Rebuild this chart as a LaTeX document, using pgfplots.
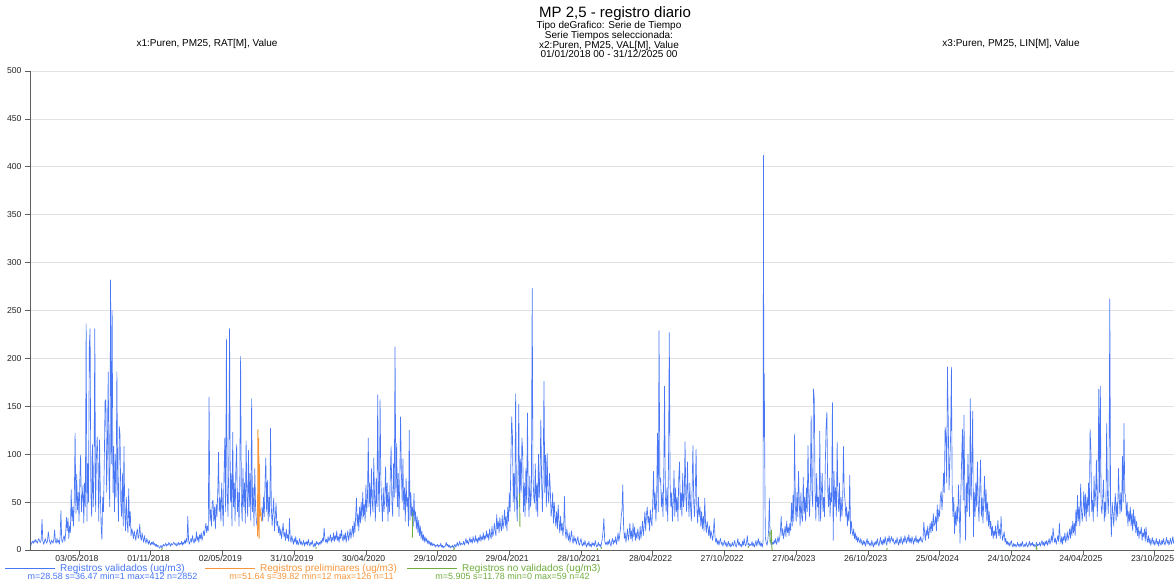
\documentclass[border=0pt]{standalone}
\usepackage{fontspec}
\setmainfont{Liberation Sans}
\usepackage{pgfplots}
\usepackage{pgfplotstable}
\pgfplotsset{compat=1.18}
\definecolor{cblue}{RGB}{72,118,245}
\definecolor{corange}{RGB}{245,150,60}
\definecolor{cgreen}{RGB}{112,172,62}
\definecolor{gridc}{RGB}{226,226,226}
\definecolor{axc}{RGB}{95,95,95}

\pgfplotstableread[row sep=\\]{
d v\\
0 5\\ 2 8\\ 4 9\\ 6 7\\ 8 10\\ 10 8\\ 12 11\\ 14 9\\ 16 7\\ 18 10\\
20 12\\ 22 9\\ 24 8\\ 26 11\\ 28 32\\ 30 10\\ 32 6\\ 34 8\\ 36 12\\ 38 9\\
40 7\\ 42 10\\ 44 19\\ 46 12\\ 48 8\\ 50 6\\ 52 10\\ 54 9\\ 56 7\\ 58 11\\
60 21\\ 62 9\\ 64 7\\ 66 12\\ 68 8\\ 70 10\\ 72 6\\ 74 14\\ 76 41\\ 78 10\\
80 8\\ 82 12\\ 84 15\\ 86 9\\ 88 18\\ 90 34\\ 92 20\\ 94 33\\ 96 12\\ 98 25\\
100 18\\ 102 63\\ 104 30\\ 106 45\\ 108 25\\ 110 55\\ 112 122\\ 114 38\\ 116 79\\ 118 42\\
120 60\\ 122 30\\ 124 75\\ 126 99\\ 128 40\\ 130 55\\ 132 68\\ 134 28\\ 136 70\\ 138 45\\
140 236\\ 142 30\\ 144 90\\ 146 50\\ 148 212\\ 150 231\\ 152 60\\ 154 35\\ 156 110\\ 158 45\\
160 80\\ 162 231\\ 164 40\\ 166 95\\ 168 118\\ 170 89\\ 172 30\\ 174 115\\ 176 60\\ 178 25\\
180 11\\ 182 55\\ 184 40\\ 186 90\\ 188 155\\ 190 157\\ 192 60\\ 194 110\\ 196 186\\ 198 75\\
200 45\\ 202 282\\ 204 90\\ 206 250\\ 208 60\\ 210 108\\ 212 40\\ 214 100\\ 216 55\\ 218 186\\
220 70\\ 222 30\\ 224 129\\ 226 120\\ 228 50\\ 230 35\\ 232 80\\ 234 25\\ 236 108\\ 238 40\\
240 20\\ 242 55\\ 244 30\\ 246 18\\ 248 64\\ 250 25\\ 252 40\\ 254 15\\ 256 22\\ 258 18\\
260 12\\ 262 20\\ 264 15\\ 266 10\\ 268 18\\ 270 22\\ 272 12\\ 274 15\\ 276 27\\ 278 14\\
280 10\\ 282 18\\ 284 12\\ 286 8\\ 288 15\\ 290 10\\ 292 7\\ 294 12\\ 296 9\\ 298 6\\
300 10\\ 302 7\\ 304 5\\ 306 8\\ 308 6\\ 310 9\\ 312 5\\ 314 7\\ 316 4\\ 318 6\\
320 3\\ 322 5\\ 324 4\\ 326 2\\ 328 3\\ 330 5\\ 332 2\\ 334 4\\ 336 6\\ 338 4\\
340 5\\ 342 7\\ 344 4\\ 346 6\\ 348 5\\ 350 8\\ 352 6\\ 354 4\\ 356 7\\ 358 5\\
360 6\\ 362 8\\ 364 7\\
366 5\\ 368 7\\ 370 4\\ 372 6\\ 374 8\\ 376 5\\ 378 7\\ 380 6\\ 382 9\\ 384 5\\
386 8\\ 388 6\\ 390 10\\ 392 7\\ 394 12\\ 396 8\\ 398 35\\ 400 10\\ 402 6\\ 404 9\\
406 12\\ 408 8\\ 410 15\\ 412 10\\ 414 7\\ 416 12\\ 418 9\\ 420 19\\ 422 10\\ 424 14\\
426 8\\ 428 16\\ 430 12\\ 432 18\\ 434 10\\ 436 14\\ 438 20\\ 440 15\\ 442 22\\ 444 28\\
446 18\\ 448 25\\ 450 20\\ 452 160\\ 454 30\\ 456 42\\ 458 25\\ 460 50\\ 462 52\\ 464 30\\
466 45\\ 468 22\\ 470 48\\ 472 35\\ 474 60\\ 476 102\\ 478 40\\ 480 55\\ 482 30\\ 484 70\\
486 45\\ 488 25\\ 490 80\\ 492 117\\ 494 40\\ 496 220\\ 498 60\\ 500 35\\ 502 90\\ 504 231\\
506 50\\ 508 80\\ 510 25\\ 512 123\\ 514 45\\ 516 70\\ 518 30\\ 520 85\\ 522 110\\ 524 40\\
526 60\\ 528 25\\ 530 75\\ 532 202\\ 534 50\\ 536 30\\ 538 85\\ 540 45\\ 542 70\\ 544 28\\
546 114\\ 548 55\\ 550 35\\ 552 104\\ 554 45\\ 556 80\\ 558 30\\ 560 158\\ 562 40\\ 564 65\\
566 25\\ 568 85\\ 570 45\\ 572 30\\ 574 25\\ 576 nan\\
586 45\\ 588 30\\ 590 55\\ 592 35\\ 594 70\\ 596 96\\ 598 40\\ 600 73\\ 602 30\\ 604 55\\
606 35\\ 608 127\\ 610 45\\ 612 25\\ 614 40\\ 616 54\\ 618 20\\ 620 35\\ 622 49\\ 624 25\\
626 30\\ 628 18\\ 630 25\\ 632 15\\ 634 22\\ 636 12\\ 638 20\\ 640 28\\ 642 14\\ 644 18\\
646 10\\ 648 22\\ 650 12\\ 652 16\\ 654 9\\ 656 33\\ 658 12\\ 660 8\\ 662 15\\ 664 10\\
666 6\\ 668 12\\ 670 8\\ 672 14\\ 674 6\\ 676 10\\ 678 5\\ 680 8\\ 682 12\\ 684 6\\
686 9\\ 688 5\\ 690 7\\ 692 10\\ 694 4\\ 696 8\\ 698 6\\ 700 9\\ 702 5\\ 704 11\\
706 7\\ 708 4\\ 710 8\\ 712 6\\ 714 10\\ 716 5\\ 718 3\\ 720 7\\ 722 4\\ 724 9\\
726 6\\ 728 8\\
730 5\\ 732 8\\ 734 6\\ 736 10\\ 738 7\\ 740 12\\ 742 9\\ 744 23\\ 746 12\\ 748 8\\
750 11\\ 752 7\\ 754 14\\ 756 9\\ 758 12\\ 760 16\\ 762 8\\ 764 13\\ 766 10\\ 768 18\\
770 9\\ 772 15\\ 774 11\\ 776 20\\ 778 10\\ 780 14\\ 782 8\\ 784 17\\ 786 12\\ 788 21\\
790 13\\ 792 9\\ 794 16\\ 796 11\\ 798 18\\ 800 8\\ 802 14\\ 804 20\\ 806 10\\ 808 15\\
810 22\\ 812 12\\ 814 18\\ 816 25\\ 818 14\\ 820 30\\ 822 18\\ 824 35\\ 826 54\\ 828 25\\
830 38\\ 832 20\\ 834 45\\ 836 28\\ 838 50\\ 840 32\\ 842 60\\ 844 35\\ 846 48\\ 848 30\\
850 68\\ 852 40\\ 854 55\\ 856 117\\ 858 45\\ 860 70\\ 862 35\\ 864 85\\ 866 50\\ 868 40\\
870 96\\ 872 55\\ 874 30\\ 876 75\\ 878 45\\ 880 162\\ 882 60\\ 884 40\\ 886 157\\ 888 73\\
890 50\\ 892 30\\ 894 65\\ 896 40\\ 898 55\\ 900 87\\ 902 45\\ 904 70\\ 906 30\\ 908 60\\
910 40\\ 912 80\\ 914 108\\ 916 50\\ 918 35\\ 920 90\\ 922 55\\ 924 212\\ 926 60\\ 928 111\\
930 45\\ 932 80\\ 934 35\\ 936 70\\ 938 139\\ 940 82\\ 942 50\\ 944 95\\ 946 42\\ 948 65\\
950 30\\ 952 75\\ 954 45\\ 956 55\\ 958 25\\ 960 125\\ 962 31\\ 964 60\\ 966 35\\ 968 45\\
970 25\\ 972 59\\ 974 30\\ 976 40\\ 978 22\\ 980 35\\ 982 18\\ 984 31\\ 986 15\\ 988 25\\
990 12\\ 992 20\\ 994 10\\ 996 16\\ 998 8\\ 1000 14\\ 1002 9\\ 1004 12\\ 1006 7\\ 1008 10\\
1010 6\\ 1012 9\\ 1014 5\\ 1016 8\\ 1018 4\\ 1020 7\\ 1022 5\\ 1024 6\\ 1026 3\\ 1028 5\\
1030 4\\ 1032 6\\ 1034 3\\ 1036 5\\ 1038 4\\ 1040 7\\ 1042 3\\ 1044 5\\ 1046 2\\ 1048 4\\
1050 3\\ 1052 5\\ 1054 8\\ 1056 4\\ 1058 6\\ 1060 3\\ 1062 5\\ 1064 2\\ 1066 4\\ 1068 3\\
1070 5\\ 1072 2\\ 1074 4\\ 1076 6\\ 1078 3\\ 1080 5\\ 1082 8\\ 1084 4\\ 1086 6\\ 1088 9\\
1090 5\\ 1092 7\\ 1094 6\\
1096 6\\ 1098 9\\ 1100 5\\ 1102 8\\ 1104 12\\ 1106 7\\ 1108 10\\ 1110 6\\ 1112 9\\ 1114 13\\
1116 8\\ 1118 11\\ 1120 7\\ 1122 14\\ 1124 10\\ 1126 8\\ 1128 15\\ 1130 9\\ 1132 12\\ 1134 7\\
1136 13\\ 1138 10\\ 1140 16\\ 1142 9\\ 1144 14\\ 1146 11\\ 1148 18\\ 1150 10\\ 1152 15\\ 1154 12\\
1156 20\\ 1158 13\\ 1160 17\\ 1162 10\\ 1164 22\\ 1166 15\\ 1168 12\\ 1170 25\\ 1172 14\\ 1174 18\\
1176 28\\ 1178 20\\ 1180 15\\ 1182 37\\ 1184 22\\ 1186 30\\ 1188 18\\ 1190 34\\ 1192 25\\ 1194 20\\
1196 36\\ 1198 22\\ 1200 30\\ 1202 42\\ 1204 25\\ 1206 35\\ 1208 20\\ 1210 45\\ 1212 30\\ 1214 60\\
1216 40\\ 1218 95\\ 1220 139\\ 1222 118\\ 1224 50\\ 1226 80\\ 1228 40\\ 1230 163\\ 1232 56\\ 1234 30\\
1236 75\\ 1238 152\\ 1240 45\\ 1242 95\\ 1244 60\\ 1246 117\\ 1248 103\\ 1250 40\\ 1252 70\\ 1254 35\\
1256 85\\ 1258 49\\ 1260 143\\ 1262 60\\ 1264 35\\ 1266 77\\ 1268 45\\ 1270 60\\ 1272 273\\ 1274 80\\
1276 55\\ 1278 49\\ 1280 90\\ 1282 40\\ 1284 70\\ 1286 35\\ 1288 100\\ 1290 55\\ 1292 80\\ 1294 136\\
1296 70\\ 1298 40\\ 1300 85\\ 1302 176\\ 1304 60\\ 1306 99\\ 1308 45\\ 1310 101\\ 1312 60\\ 1314 49\\
1316 80\\ 1318 64\\ 1320 35\\ 1322 43\\ 1324 60\\ 1326 28\\ 1328 50\\ 1330 35\\ 1332 25\\ 1334 40\\
1336 22\\ 1338 47\\ 1340 30\\ 1342 18\\ 1344 35\\ 1346 20\\ 1348 28\\ 1350 15\\ 1352 25\\ 1354 56\\
1356 20\\ 1358 12\\ 1360 22\\ 1362 15\\ 1364 10\\ 1366 18\\ 1368 8\\ 1370 14\\ 1372 20\\ 1374 10\\
1376 7\\ 1378 15\\ 1380 9\\ 1382 12\\ 1384 6\\ 1386 10\\ 1388 14\\ 1390 7\\ 1392 5\\ 1394 9\\
1396 12\\ 1398 6\\ 1400 4\\ 1402 8\\ 1404 5\\ 1406 10\\ 1408 6\\ 1410 3\\ 1412 7\\ 1414 5\\
1416 9\\ 1418 4\\ 1420 6\\ 1422 3\\ 1424 8\\ 1426 5\\ 1428 7\\ 1430 4\\ 1432 10\\ 1434 6\\
1436 3\\ 1438 5\\ 1440 8\\ 1442 4\\ 1444 6\\ 1446 3\\ 1448 7\\ 1450 12\\ 1452 20\\ 1454 33\\
1456 10\\ 1458 6\\ 1460 8\\
1462 5\\ 1464 9\\ 1466 6\\ 1468 11\\ 1470 7\\ 1472 4\\ 1474 9\\ 1476 12\\ 1478 6\\ 1480 10\\
1482 8\\ 1484 14\\ 1486 6\\ 1488 11\\ 1490 18\\ 1492 9\\ 1494 15\\ 1496 22\\ 1498 35\\ 1500 42\\
1502 68\\ 1504 25\\ 1506 12\\ 1508 18\\ 1510 8\\ 1512 15\\ 1514 22\\ 1516 10\\ 1518 16\\ 1520 28\\
1522 12\\ 1524 20\\ 1526 9\\ 1528 28\\ 1530 14\\ 1532 24\\ 1534 10\\ 1536 18\\ 1538 12\\ 1540 22\\
1542 15\\ 1544 10\\ 1546 25\\ 1548 12\\ 1550 20\\ 1552 30\\ 1554 15\\ 1556 25\\ 1558 40\\ 1560 20\\
1562 37\\ 1564 45\\ 1566 28\\ 1568 35\\ 1570 20\\ 1572 42\\ 1574 30\\ 1576 25\\ 1578 50\\ 1580 82\\
1582 42\\ 1584 60\\ 1586 30\\ 1588 55\\ 1590 122\\ 1592 40\\ 1594 229\\ 1596 71\\ 1598 75\\ 1600 45\\
1602 60\\ 1604 35\\ 1606 80\\ 1608 171\\ 1610 56\\ 1612 40\\ 1614 65\\ 1616 30\\ 1618 90\\ 1620 227\\
1622 71\\ 1624 45\\ 1626 60\\ 1628 30\\ 1630 50\\ 1632 83\\ 1634 35\\ 1636 65\\ 1638 40\\ 1640 55\\
1642 30\\ 1644 75\\ 1646 92\\ 1648 42\\ 1650 60\\ 1652 35\\ 1654 80\\ 1656 45\\ 1658 55\\ 1660 113\\
1662 56\\ 1664 40\\ 1666 92\\ 1668 57\\ 1670 35\\ 1672 70\\ 1674 45\\ 1676 30\\ 1678 65\\ 1680 109\\
1682 50\\ 1684 35\\ 1686 60\\ 1688 105\\ 1690 42\\ 1692 28\\ 1694 55\\ 1696 35\\ 1698 45\\ 1700 25\\
1702 40\\ 1704 22\\ 1706 35\\ 1708 20\\ 1710 54\\ 1712 28\\ 1714 18\\ 1716 30\\ 1718 24\\ 1720 15\\
1722 25\\ 1724 12\\ 1726 20\\ 1728 15\\ 1730 10\\ 1732 18\\ 1734 33\\ 1736 14\\ 1738 8\\ 1740 12\\
1742 6\\ 1744 10\\ 1746 5\\ 1748 9\\ 1750 12\\ 1752 6\\ 1754 8\\ 1756 4\\ 1758 7\\ 1760 10\\
1762 5\\ 1764 8\\ 1766 3\\ 1768 6\\ 1770 9\\ 1772 4\\ 1774 7\\ 1776 3\\ 1778 5\\ 1780 8\\
1782 4\\ 1784 6\\ 1786 10\\ 1788 5\\ 1790 3\\ 1792 7\\ 1794 12\\ 1796 5\\ 1798 8\\ 1800 4\\
1802 6\\ 1804 3\\ 1806 9\\ 1808 5\\ 1810 12\\ 1812 6\\ 1814 4\\ 1816 8\\ 1818 15\\ 1820 5\\
1822 7\\ 1824 4\\ 1826 6\\
1828 5\\ 1830 9\\ 1832 4\\ 1834 7\\ 1836 3\\ 1838 6\\ 1840 10\\ 1842 4\\ 1844 8\\ 1846 12\\
1848 5\\ 1850 9\\ 1852 4\\ 1854 7\\ 1856 3\\ 1858 8\\ 1859 412\\ 1860 118\\ 1861 184\\ 1862 118\\ 1863 45\\ 1864 12\\
1866 8\\ 1868 5\\ 1870 10\\ 1872 20\\ 1874 54\\ 1876 12\\ 1878 6\\ 1880 5\\ 1882 8\\ 1884 6\\
1886 10\\ 1888 7\\ 1890 12\\ 1892 6\\ 1894 9\\ 1896 14\\ 1898 8\\ 1900 12\\ 1902 20\\ 1904 35\\
1906 15\\ 1908 22\\ 1910 12\\ 1912 18\\ 1914 25\\ 1916 14\\ 1918 30\\ 1920 18\\ 1922 24\\ 1924 15\\
1926 28\\ 1928 20\\ 1930 49\\ 1932 25\\ 1934 57\\ 1936 30\\ 1938 121\\ 1940 45\\ 1942 30\\ 1944 60\\
1946 35\\ 1948 82\\ 1950 49\\ 1952 25\\ 1954 60\\ 1956 35\\ 1958 30\\ 1960 76\\ 1962 38\\ 1964 55\\
1966 30\\ 1968 65\\ 1970 40\\ 1972 109\\ 1974 56\\ 1976 35\\ 1978 70\\ 1980 140\\ 1982 59\\ 1984 45\\
1986 168\\ 1988 157\\ 1990 60\\ 1992 31\\ 1994 80\\ 1996 45\\ 1998 55\\ 2000 30\\ 2002 124\\ 2004 30\\
2006 60\\ 2008 80\\ 2010 40\\ 2012 55\\ 2014 35\\ 2016 90\\ 2018 129\\ 2020 144\\ 2022 63\\ 2024 45\\
2026 75\\ 2028 35\\ 2030 60\\ 2032 50\\ 2034 154\\ 2036 10\\ 2038 82\\ 2040 45\\ 2042 65\\ 2044 35\\
2046 113\\ 2048 59\\ 2050 40\\ 2052 70\\ 2054 30\\ 2056 55\\ 2058 35\\ 2060 50\\ 2062 108\\ 2064 61\\
2066 52\\ 2068 35\\ 2070 45\\ 2072 25\\ 2074 40\\ 2076 30\\ 2078 78\\ 2080 17\\ 2082 30\\ 2084 20\\
2086 15\\ 2088 22\\ 2090 12\\ 2092 18\\ 2094 10\\ 2096 15\\ 2098 8\\ 2100 13\\ 2102 10\\ 2104 7\\
2106 12\\ 2108 8\\ 2110 5\\ 2112 10\\ 2114 6\\ 2116 9\\ 2118 4\\ 2120 8\\ 2122 12\\ 2124 6\\
2126 9\\ 2128 5\\ 2130 7\\ 2132 4\\ 2134 10\\ 2136 6\\ 2138 3\\ 2140 8\\ 2142 5\\ 2144 9\\
2146 6\\ 2148 12\\ 2150 7\\ 2152 4\\ 2154 9\\ 2156 13\\ 2158 6\\ 2160 10\\ 2162 5\\ 2164 11\\
2166 7\\ 2168 14\\ 2170 8\\ 2172 5\\ 2174 12\\ 2176 9\\ 2178 15\\ 2180 7\\ 2182 11\\ 2184 14\\
2186 9\\ 2188 12\\ 2190 8\\
2192 6\\ 2194 10\\ 2196 7\\ 2198 13\\ 2200 8\\ 2202 5\\ 2204 11\\ 2206 7\\ 2208 14\\ 2210 9\\
2212 6\\ 2214 12\\ 2216 8\\ 2218 15\\ 2220 10\\ 2222 7\\ 2224 13\\ 2226 9\\ 2228 16\\ 2230 8\\
2232 12\\ 2234 7\\ 2236 14\\ 2238 10\\ 2240 6\\ 2242 12\\ 2244 9\\ 2246 15\\ 2248 8\\ 2250 11\\
2252 7\\ 2254 12\\ 2256 9\\ 2258 14\\ 2260 10\\ 2262 8\\ 2264 12\\ 2266 29\\ 2268 18\\ 2270 10\\
2272 21\\ 2274 15\\ 2276 25\\ 2278 12\\ 2280 20\\ 2282 28\\ 2284 18\\ 2286 30\\ 2288 20\\ 2290 38\\
2292 25\\ 2294 28\\ 2296 35\\ 2298 20\\ 2300 47\\ 2302 30\\ 2304 42\\ 2306 35\\ 2308 55\\ 2310 61\\
2312 42\\ 2314 55\\ 2316 80\\ 2318 60\\ 2320 128\\ 2322 120\\ 2324 70\\ 2326 191\\ 2328 134\\ 2330 63\\
2332 90\\ 2334 120\\ 2336 191\\ 2338 63\\ 2340 35\\ 2342 55\\ 2344 17\\ 2346 40\\ 2348 25\\ 2350 45\\
2352 30\\ 2354 68\\ 2356 40\\ 2358 7\\ 2360 60\\ 2362 95\\ 2364 126\\ 2366 52\\ 2368 141\\ 2370 52\\
2372 10\\ 2374 70\\ 2376 40\\ 2378 100\\ 2380 60\\ 2382 35\\ 2384 158\\ 2386 52\\ 2388 90\\ 2390 145\\
2392 14\\ 2394 60\\ 2396 35\\ 2398 70\\ 2400 45\\ 2402 92\\ 2404 49\\ 2406 30\\ 2408 65\\ 2410 94\\
2412 35\\ 2414 55\\ 2416 28\\ 2418 50\\ 2420 77\\ 2422 40\\ 2424 63\\ 2426 30\\ 2428 50\\ 2430 25\\
2432 40\\ 2434 22\\ 2436 30\\ 2438 15\\ 2440 25\\ 2442 12\\ 2444 20\\ 2446 15\\ 2448 25\\ 2450 12\\
2452 20\\ 2454 31\\ 2456 15\\ 2458 22\\ 2460 12\\ 2462 35\\ 2464 18\\ 2466 10\\ 2468 15\\ 2470 19\\
2472 8\\ 2474 12\\ 2476 6\\ 2478 9\\ 2480 5\\ 2482 8\\ 2484 4\\ 2486 7\\ 2488 10\\ 2490 5\\
2492 3\\ 2494 7\\ 2496 4\\ 2498 6\\ 2500 3\\ 2502 5\\ 2504 8\\ 2506 4\\ 2508 6\\ 2510 3\\
2512 7\\ 2514 4\\ 2516 9\\ 2518 5\\ 2520 3\\ 2522 6\\ 2524 4\\ 2526 8\\ 2528 5\\ 2530 3\\
2532 6\\ 2534 9\\ 2536 4\\ 2538 7\\ 2540 5\\ 2542 8\\ 2544 4\\ 2546 6\\ 2548 3\\ 2550 5\\
2552 8\\ 2554 4\\ 2556 6\\
2558 5\\ 2560 8\\ 2562 4\\ 2564 7\\ 2566 10\\ 2568 5\\ 2570 8\\ 2572 4\\ 2574 9\\ 2576 6\\
2578 10\\ 2580 5\\ 2582 8\\ 2584 12\\ 2586 6\\ 2588 9\\ 2590 15\\ 2592 8\\ 2594 23\\ 2596 14\\
2598 8\\ 2600 12\\ 2602 6\\ 2604 10\\ 2606 15\\ 2608 9\\ 2610 28\\ 2612 12\\ 2614 7\\ 2616 14\\
2618 6\\ 2620 14\\ 2622 10\\ 2624 18\\ 2626 8\\ 2628 12\\ 2630 19\\ 2632 10\\ 2634 15\\ 2636 22\\
2638 12\\ 2640 25\\ 2642 15\\ 2644 30\\ 2646 18\\ 2648 28\\ 2650 15\\ 2652 42\\ 2654 25\\ 2656 57\\
2658 30\\ 2660 45\\ 2662 25\\ 2664 69\\ 2666 42\\ 2668 30\\ 2670 42\\ 2672 61\\ 2674 35\\ 2676 59\\
2678 30\\ 2680 55\\ 2682 40\\ 2684 70\\ 2686 35\\ 2688 126\\ 2690 104\\ 2692 40\\ 2694 52\\ 2696 30\\
2698 77\\ 2700 45\\ 2702 60\\ 2704 94\\ 2706 35\\ 2708 55\\ 2710 168\\ 2712 60\\ 2714 171\\ 2716 45\\
2718 38\\ 2720 55\\ 2722 73\\ 2724 30\\ 2726 50\\ 2728 35\\ 2730 132\\ 2732 60\\ 2734 38\\ 2736 70\\
2738 262\\ 2740 40\\ 2742 14\\ 2744 50\\ 2746 38\\ 2748 25\\ 2750 45\\ 2752 59\\ 2754 30\\ 2756 50\\
2758 35\\ 2760 85\\ 2762 55\\ 2764 38\\ 2766 60\\ 2768 40\\ 2770 98\\ 2772 50\\ 2774 132\\ 2776 60\\
2778 56\\ 2780 35\\ 2782 50\\ 2784 25\\ 2786 40\\ 2788 30\\ 2790 45\\ 2792 25\\ 2794 38\\ 2796 20\\
2798 42\\ 2800 25\\ 2802 35\\ 2804 18\\ 2806 30\\ 2808 15\\ 2810 24\\ 2812 12\\ 2814 20\\ 2816 17\\
2818 24\\ 2820 10\\ 2822 18\\ 2824 14\\ 2826 22\\ 2828 9\\ 2830 24\\ 2832 12\\ 2834 8\\ 2836 15\\
2838 7\\ 2840 12\\ 2842 5\\ 2844 9\\ 2846 13\\ 2848 6\\ 2850 10\\ 2852 5\\ 2854 8\\ 2856 12\\
2858 6\\ 2860 9\\ 2862 4\\ 2864 11\\ 2866 7\\ 2868 5\\ 2870 10\\ 2872 6\\ 2874 12\\ 2876 8\\
2878 5\\ 2880 9\\ 2882 13\\ 2884 7\\ 2886 10\\ 2888 5\\ 2890 8\\ 2892 12\\ 2894 6\\ 2896 9\\
2898 14\\ 2900 7\\ 2902 10\\ 2904 6\\
}\tblue

\pgfplotstableread[row sep=\\]{
d v\\
575 14\\ 576 126\\ 577 21\\ 578 117\\ 579 12\\ 580 90\\ 581 45\\ 582 35\\ 583 40\\ 584 38\\ 585 30\\
}\torange

\pgfplotstableread[row sep=\\]{
d v\\
332 0\\ 333 2\\ 334 nan\\ 723 1\\ 724 3\\ 725 nan\\ 968 13\\ 969 40\\ 970 nan\\
1073 0\\ 1074 2\\ 1075 1\\ 1076 nan\\ 1240 59\\ 1241 24\\ 1242 nan\\
1437 2\\ 1438 0\\ 1439 nan\\ 1447 1\\ 1448 3\\ 1449 nan\\ 1820 2\\ 1821 4\\ 1822 nan\\
1875 19\\ 1876 8\\ 1877 nan\\ 1879 21\\ 1880 4\\ 1881 0\\ 1882 nan\\
2172 0\\ 2173 2\\ 2174 nan\\ 2551 1\\ 2552 3\\ 2553 0\\
}\tgreen

\begin{document}
\begin{tikzpicture}
\path[use as bounding box] (0pt,0pt) rectangle (1174pt,581pt);
\begin{axis}[
  at={(30pt,31pt)}, anchor=south west, scale only axis,
  width=1144pt, height=479pt,
  xmin=-2.5, xmax=2901, ymin=0, ymax=500,
  axis x line*=bottom, axis y line*=left,
  axis line style={axc, line width=0.8pt},
  ytick={0,50,...,500},
  ymajorgrids, grid style={gridc, line width=0.6pt},
  xtick={122,304,486,668,850,1032,1214,1396,1578,1760,1942,2124,2306,2488,2670,2852},
  xticklabels={03/05/2018,01/11/2018,02/05/2019,31/10/2019,30/04/2020,29/10/2020,29/04/2021,28/10/2021,28/04/2022,27/10/2022,27/04/2023,26/10/2023,25/04/2024,24/10/2024,24/04/2025,23/10/2025},
  tick style={axc, line width=0.7pt},
  tick align=outside, major tick length=5pt,
  ticklabel style={font=\fontsize{8.6}{9}\selectfont, text=black!85},
  /pgf/number format/assume math mode=true,
  xticklabel style={xshift=-2.2pt, yshift=3pt},
  unbounded coords=jump,
]
\addplot[cblue, line width=0.65pt, line join=round] table[x=d, y=v] {\tblue};
\addplot[corange, line width=0.9pt] table[x=d, y=v] {\torange};
\addplot[cgreen, line width=0.9pt] table[x=d, y=v] {\tgreen};
\end{axis}
% titles
\node[anchor=base, font=\fontsize{15}{15}\selectfont] at (615pt,563pt) {MP 2,5 - registro diario};
\node[anchor=base, font=\fontsize{10}{10}\selectfont] at (609pt,552.5pt) {Tipo deGrafico: Serie de Tiempo};
\node[anchor=base, font=\fontsize{10}{10}\selectfont] at (609pt,542.5pt) {Serie Tiempos seleccionada:};
\node[anchor=base, font=\fontsize{10}{10}\selectfont] at (609pt,532.5pt) {x2:Puren, PM25, VAL[M], Value};
\node[anchor=base, font=\fontsize{10}{10}\selectfont] at (609pt,523.5pt) {01/01/2018 00 - 31/12/2025 00};
\node[anchor=base, font=\fontsize{10}{10}\selectfont] at (207pt,534.5pt) {x1:Puren, PM25, RAT[M], Value};
\node[anchor=base, font=\fontsize{10}{10}\selectfont] at (1011pt,534.5pt) {x3:Puren, PM25, LIN[M], Value};
% legend
\draw[cblue, line width=0.8pt] (5pt,13pt) -- (55pt,13pt);
\node[anchor=base west, inner sep=0pt, text=cblue, font=\fontsize{10}{10}\selectfont] at (60pt,9.5pt) {Registros validados (ug/m3)};
\draw[corange, line width=0.8pt] (205pt,13pt) -- (255pt,13pt);
\node[anchor=base west, inner sep=0pt, text=corange, font=\fontsize{10}{10}\selectfont] at (260pt,9.5pt) {Registros preliminares (ug/m3)};
\draw[cgreen, line width=0.8pt] (407pt,13pt) -- (457pt,13pt);
\node[anchor=base west, inner sep=0pt, text=cgreen, font=\fontsize{10}{10}\selectfont] at (462pt,9.5pt) {Registros no validados (ug/m3)};
\node[anchor=base, inner sep=0pt, text=cblue, font=\fontsize{9}{9}\selectfont] at (112.5pt,1.5pt) {m=28.58 s=36.47 min=1 max=412 n=2852};
\node[anchor=base, inner sep=0pt, text=corange, font=\fontsize{9}{9}\selectfont] at (311.5pt,1.5pt) {m=51.64 s=39.82 min=12 max=126 n=11};
\node[anchor=base, inner sep=0pt, text=cgreen, font=\fontsize{9}{9}\selectfont] at (512.5pt,1.5pt) {m=5.905 s=11.78 min=0 max=59 n=42};
\end{tikzpicture}
\end{document}
